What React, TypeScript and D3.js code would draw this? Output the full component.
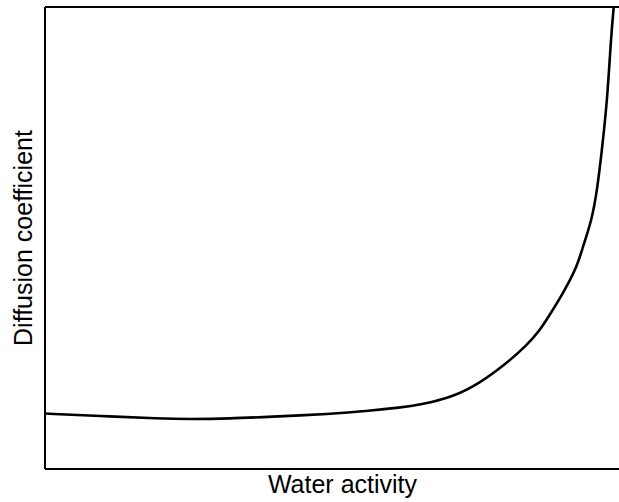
import { line, curveBasis, scaleLinear } from 'd3'

const width = 619
const height = 502

const margin = { top: 7, right: -21, bottom: 33, left: 45 }

const innerWidth = width - margin.left - margin.right
const innerHeight = height - margin.top - margin.bottom

// water activity (0-1) vs relative diffusion coefficient
const waterActivity = [
  0, 0.092, 0.193, 0.244, 0.311, 0.378, 0.479, 0.546, 0.597, 0.63, 0.686,
  0.731, 0.776, 0.81, 0.832, 0.845, 0.871, 0.894, 0.904, 0.919, 0.928, 0.936,
  0.945, 0.951, 0.956, 0.961, 0.965,
]
const diffusion = [
  0.12, 0.115, 0.109, 0.108, 0.109, 0.113, 0.119, 0.126, 0.133, 0.139, 0.156,
  0.186, 0.229, 0.268, 0.301, 0.327, 0.381, 0.437, 0.481, 0.539, 0.604, 0.69,
  0.799, 0.929, 1.004, 1.07, 1.13,
]

const xAxisLabel = 'Water activity'
const yAxisLabel = 'Diffusion coefficient'

const App = () => {
  const xScale = scaleLinear().domain([0, 1]).range([0, innerWidth])
  const yScale = scaleLinear().domain([0, 1]).range([innerHeight, 0])

  const points = waterActivity.map((a, i) => [a, diffusion[i]])

  // basis spline smooths out the small reading errors
  const path = line()
    .x((d) => xScale(d[0]))
    .y((d) => yScale(d[1]))
    .curve(curveBasis)(points)

  const font = '"Liberation Sans", Arial, Helvetica, sans-serif'

  return (
    <svg
      width={width}
      height={height}
      style={{ position: 'absolute', left: 0, top: 0, background: '#fff' }}
    >
      <defs>
        <clipPath id="plot">
          <rect x={0} y={0} width={innerWidth} height={innerHeight} />
        </clipPath>
      </defs>
      <g transform={`translate(${margin.left},${margin.top})`}>
        <path
          d={path}
          fill="none"
          stroke="#000"
          strokeWidth={2.6}
          clipPath="url(#plot)"
        />
        {/* box: left, top and bottom edges */}
        <line x1={0} x2={innerWidth} y1={0} y2={0} stroke="#000" strokeWidth={2} />
        <line
          x1={0}
          x2={innerWidth}
          y1={innerHeight}
          y2={innerHeight}
          stroke="#000"
          strokeWidth={2}
        />
        <line x1={0} x2={0} y1={0} y2={innerHeight} stroke="#000" strokeWidth={2} />
        <text
          x={innerWidth / 2}
          y={innerHeight + 24}
          textAnchor="middle"
          fontFamily={font}
          fontSize={25}
          fill="#000"
        >
          {xAxisLabel}
        </text>
        <text
          transform={`translate(${-13},${innerHeight / 2}) rotate(-90)`}
          textAnchor="middle"
          fontFamily={font}
          fontSize={25}
          fill="#000"
        >
          {yAxisLabel}
        </text>
      </g>
    </svg>
  )
}

export default App
